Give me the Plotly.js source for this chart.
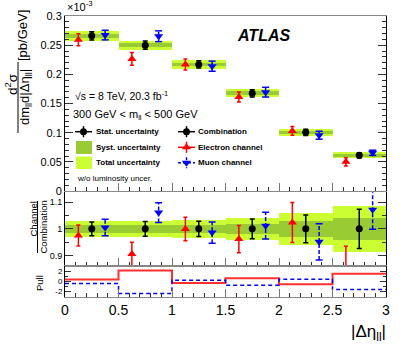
<!DOCTYPE html>
<html>
<head>
<meta charset="utf-8">
<script src="https://cdn.plot.ly/plotly-3.0.1.min.js"></script>
<style>html,body{margin:0;padding:0;background:#fff}#chart{width:407px;height:350px}</style>
</head>
<body>
<div id="chart"></div>
<script>
// |Δη_ll| bins, 300 GeV < m_ll < 500 GeV
const binEdges = [0, 0.5, 1, 1.5, 2, 2.5, 3];
const binCenters = [0.25, 0.75, 1.25, 1.75, 2.25, 2.75];

// cross sections, units of 1e-3 pb/GeV
const combination = [0.266, 0.250, 0.217, 0.1675, 0.1006, 0.0612];
const electron = [0.2594, 0.2265, 0.2168, 0.1611, 0.1030, 0.0502];
const muon = [0.2673, 0.2653, 0.2140, 0.1695, 0.0957, 0.0656];

// relative uncertainties (w.r.t. combination)
const statRel = [0.026, 0.028, 0.029, 0.037, 0.052, 0.074];
const systRel = [0.014, 0.014, 0.015, 0.020, 0.031, 0.042];
const totalRel = [0.031, 0.031, 0.033, 0.042, 0.061, 0.085];
const electronRel = [0.039, 0.044, 0.044, 0.051, 0.075, 0.115];
const muonRel = [0.031, 0.037, 0.040, 0.050, 0.068, 0.073];

// pulls
const electronPull = [0.35, 2.2, -0.35, 0.6, -0.6, 1.53];
const muonPull = [-0.47, -2.47, 0.2, -0.8, 0.4, -1.67];

const RED = '#ff0000', BLUE = '#0000ff';
const LIGHT = '#ccff33', DARK = '#99cc33';
const shift = 0.125;

// pixel -> paper helpers (plot area is 65..386 x 16..297)
const PX = p => (p - 65) / 321;
const PY = p => (297 - p) / 281;

const xE = binCenters.map(x => x - shift);
const xM = binCenters.map(x => x + shift);
const eRatio = electron.map((v, i) => v / combination[i]);
const mRatio = muon.map((v, i) => v / combination[i]);

function segs(xs, lo, hi) {
  const X = [], Y = [];
  xs.forEach((x, i) => { X.push(x, x, null); Y.push(lo[i], hi[i], null); });
  return {X, Y};
}

function band(base, rel, color, xa, ya) {
  return {
    type: 'bar', x: binCenters, width: 0.5,
    base: base.map((v, i) => v * (1 - rel[i])),
    y: base.map((v, i) => 2 * v * rel[i]),
    marker: {color: color, line: {width: 0}},
    xaxis: xa, yaxis: ya, hoverinfo: 'skip'
  };
}

function panel(comb, el, mu, xa, ya) {
  const tr = [];
  tr.push(band(comb, totalRel, LIGHT, xa, ya));
  tr.push(band(comb, systRel, DARK, xa, ya));
  tr.push({
    type: 'scatter', mode: 'markers', x: xE, y: el, xaxis: xa, yaxis: ya,
    marker: {symbol: 'triangle-up', size: 8, color: RED},
    error_y: {type: 'data', array: electronRel.map((r, i) => r * comb[i]), color: RED, thickness: 1.5, width: 2}
  });
  const s = segs(xM, mu.map((v, i) => v - muonRel[i] * comb[i]), mu.map((v, i) => v + muonRel[i] * comb[i]));
  tr.push({
    type: 'scatter', mode: 'lines+markers', x: s.X, y: s.Y, xaxis: xa, yaxis: ya,
    connectgaps: false,
    line: {color: BLUE, width: 1.5, dash: '4px,2px'},
    marker: {symbol: 'line-ew', size: 5, line: {color: BLUE, width: 1.5}}
  });
  tr.push({
    type: 'scatter', mode: 'markers', x: xM, y: mu, xaxis: xa, yaxis: ya,
    marker: {symbol: 'triangle-down', size: 8, color: BLUE}
  });
  tr.push({
    type: 'scatter', mode: 'markers', x: binCenters, y: comb, xaxis: xa, yaxis: ya,
    marker: {symbol: 'circle', size: 7, color: 'black'},
    error_y: {type: 'data', array: statRel.map((r, i) => r * comb[i]), color: 'black', thickness: 1.5, width: 2.5}
  });
  return tr;
}

let traces = [];
traces = traces.concat(panel(combination, electron, muon, 'x', 'y'));
traces = traces.concat(panel(combination.map(() => 1), eRatio, mRatio, 'x2', 'y2'));

// pull steps
traces.push({
  type: 'scatter', mode: 'lines', x: binEdges, y: electronPull.concat([electronPull[5]]),
  xaxis: 'x3', yaxis: 'y3', line: {shape: 'hv', color: '#ff3030', width: 2}
});
traces.push({
  type: 'scatter', mode: 'lines', x: binEdges, y: muonPull.concat([muonPull[5]]),
  xaxis: 'x3', yaxis: 'y3', line: {shape: 'hv', color: BLUE, width: 1.5, dash: '4px,3px'}
});

// legend symbols on a pixel-overlay subplot
function legSym(x, y, color, symbol, dash) {
  return [{
    type: 'scatter', mode: 'lines', x: [x - 8.5, x + 8.5, null, x, x], y: [y, y, null, y - 5.5, y + 5.5],
    xaxis: 'x4', yaxis: 'y4', line: {color: color, width: 1.5, dash: dash || 'solid'}, connectgaps: false
  }, {
    type: 'scatter', mode: 'markers', x: [x], y: [y], xaxis: 'x4', yaxis: 'y4',
    marker: {symbol: symbol, size: symbol === 'circle' ? 7 : 8, color: color}
  }];
}
traces = traces.concat(legSym(83.5, 131.7, 'black', 'circle'));
traces = traces.concat(legSym(186.5, 131.7, 'black', 'circle'));
traces = traces.concat(legSym(186.5, 147.3, RED, 'triangle-up'));
traces = traces.concat(legSym(186.5, 162.7, BLUE, 'triangle-down', '3px,2px'));

const xCommon = {
  range: [0, 3], dtick: 0.5, tick0: 0, ticks: 'inside', ticklen: 8, tickwidth: 1, tickcolor: '#777',
  showline: true, linecolor: '#888', linewidth: 1, mirror: true, showgrid: false, zeroline: false,
  minor: {dtick: 0.1, ticks: 'inside', ticklen: 4, tickcolor: '#333', showgrid: false}
};
const yCommon = {
  ticks: 'inside', ticklen: 8, tickwidth: 1, tickcolor: '#333', showline: true, linecolor: 'black',
  linewidth: 1, mirror: 'ticks', showgrid: false, zeroline: false
};

const ann = (x, y, text, size, extra) => Object.assign({
  xref: 'paper', yref: 'paper', x: x, y: y, text: text, showarrow: false,
  font: {size: size, color: 'black'}, xanchor: 'center', yanchor: 'middle'
}, extra || {});
const inAnn = (x, y, text, size, extra) => Object.assign({
  xref: 'x4', yref: 'y4', x: x, y: y, text: text, showarrow: false,
  font: {size: size, color: 'black'}, xanchor: 'left', yanchor: 'middle'
}, extra || {});

const layout = {
  width: 407, height: 350,
  margin: {l: 65, r: 21, t: 16, b: 53},
  paper_bgcolor: 'white', plot_bgcolor: 'rgba(0,0,0,0)',
  font: {family: 'Liberation Sans, Arial, sans-serif', color: 'black'},
  showlegend: false, hovermode: false, barmode: 'overlay', bargap: 0,
  xaxis: Object.assign({}, xCommon, {anchor: 'y', domain: [0, 1], showticklabels: false}),
  xaxis2: Object.assign({}, xCommon, {anchor: 'y2', domain: [0, 1], showticklabels: false}),
  xaxis3: Object.assign({}, xCommon, {anchor: 'y3', domain: [0, 1], tickfont: {size: 14}}),
  xaxis4: {anchor: 'y4', domain: [0, 1], range: [65, 386], visible: false, fixedrange: true},
  yaxis: Object.assign({}, yCommon, {anchor: 'x', domain: [0.377, 1], range: [0, 0.3], dtick: 0.05, tick0: 0,
    tickfont: {size: 11}, minor: {dtick: 0.01, ticks: 'inside', ticklen: 4, tickcolor: '#333', showgrid: false}}),
  yaxis2: Object.assign({}, yCommon, {anchor: 'x2', domain: [0.112, 0.373], range: [0.8625, 1.1375],
    tickvals: [0.9, 1, 1.1], ticktext: ['0.9', '1', '1.1'], tickfont: {size: 9},
    minor: {dtick: 0.05, ticks: 'inside', ticklen: 4, tickcolor: '#333', showgrid: false}}),
  yaxis3: Object.assign({}, yCommon, {anchor: 'x3', domain: [0, 0.11], range: [-3.2, 3.1],
    tickvals: [-2, 0, 2], ticktext: ['-2', '0', '2'], tickfont: {size: 8}, ticklen: 6,
    minor: {dtick: 1, ticks: 'inside', ticklen: 3, tickcolor: '#333', showgrid: false}}),
  yaxis4: {anchor: 'x4', domain: [0, 1], range: [297, 16], visible: false, fixedrange: true},
  shapes: [
    {type: 'line', xref: 'paper', yref: 'paper', x0: PX(18), x1: PX(18), y0: PY(62), y1: PY(133), line: {color: 'black', width: 1}},
    {type: 'line', xref: 'paper', yref: 'paper', x0: PX(37.5), x1: PX(37.5), y0: PY(201), y1: PY(253), line: {color: 'black', width: 1}},
    {type: 'rect', xref: 'x4', yref: 'y4', x0: 76, x1: 92, y0: 141, y1: 154, fillcolor: DARK, line: {width: 0}},
    {type: 'rect', xref: 'x4', yref: 'y4', x0: 76, x1: 92, y0: 156.5, y1: 169, fillcolor: LIGHT, line: {width: 0}}
  ],
  annotations: [
    ann(PX(65), PY(6), '×10<sup>-3</sup>', 11, {xanchor: 'left'}),
    ann(PX(11), PY(84), 'd<sup>2</sup>σ', 13.5, {textangle: -90}),
    ann(PX(26), PY(97), 'dm<sub>ll</sub>d|Δη<sub>ll</sub>|', 13, {textangle: -90}),
    ann(PX(22), PY(36), '[pb/GeV]', 13, {textangle: -90}),
    ann(PX(32.5), PY(219), 'Channel', 9.5, {textangle: -90}),
    ann(PX(42.5), PY(227), 'Combination', 9.5, {textangle: -90}),
    ann(PX(39), PY(283), 'Pull', 9.5, {textangle: -90}),
    ann(PX(388), PY(333), '|Δη<sub>ll</sub>|', 17, {xanchor: 'right'}),
    inAnn(263, 35, '<b><i>ATLAS</i></b>', 16, {xanchor: 'center'}),
    inAnn(73, 95, '√s = 8 TeV, 20.3 fb<sup>-1</sup>', 10.5),
    inAnn(71, 115, '300 GeV &lt; m<sub>ll</sub> &lt; 500 GeV', 11),
    inAnn(94, 131.7, '<b>Stat. uncertainty</b>', 8),
    inAnn(94, 147.3, '<b>Syst. uncertainty</b>', 8),
    inAnn(94, 162.7, '<b>Total uncertainty</b>', 8),
    inAnn(195.5, 131.7, '<b>Combination</b>', 8),
    inAnn(195.5, 147.3, '<b>Electron channel</b>', 8),
    inAnn(195.5, 162.7, '<b>Muon channel</b>', 8),
    inAnn(75, 178, 'w/o luminosity uncer.', 8)
  ]
};

Plotly.newPlot('chart', traces, layout, {staticPlot: true, displayModeBar: false});
</script>
</body>
</html>
